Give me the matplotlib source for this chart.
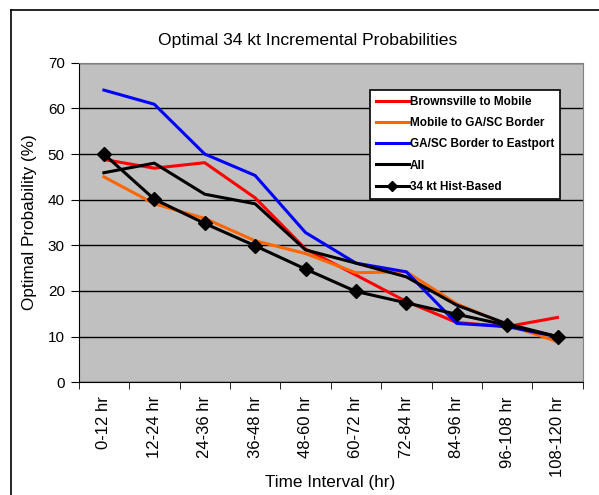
import matplotlib
matplotlib.use("Agg")
import matplotlib.pyplot as plt
from matplotlib.lines import Line2D

plt.rcParams['font.family'] = ['Liberation Sans', 'DejaVu Sans']

categories = ["0-12 hr", "12-24 hr", "24-36 hr", "36-48 hr", "48-60 hr",
              "60-72 hr", "72-84 hr", "84-96 hr", "96-108 hr", "108-120 hr"]
brownsville = [48.8, 46.9, 48.1, 40.4, 29.2, 23.5, 17.7, 13.1, 12.2, 14.2]
mobile = [45.0, 39.1, 35.9, 31.0, 28.2, 24.0, 24.2, 17.2, 12.6, 8.9]
gasc = [64.0, 60.9, 50.0, 45.3, 32.8, 26.1, 24.2, 12.9, 12.2, 10.0]
all_series = [45.9, 48.0, 41.2, 39.1, 29.0, 26.1, 23.1, 16.9, 12.8, 10.0]
hist = [50.0, 40.1, 34.8, 29.9, 24.8, 19.9, 17.4, 14.9, 12.5, 10.0]

fig = plt.figure(figsize=(5.99, 4.95), dpi=100)
W, H = 599, 495
ax = fig.add_axes([78.7 / W, 1 - 382.3 / H, (582.7 - 78.7) / W, (382.3 - 62.7) / H])
ax.set_facecolor('#C0C0C0')

x = list(range(len(categories)))
ax.plot(x, brownsville, color='#FF0000', lw=2.2, label='Brownsville to Mobile')
ax.plot(x, mobile, color='#FF6600', lw=2.2, label='Mobile to GA/SC Border')
ax.plot(x, gasc, color='#0000FF', lw=2.2, label='GA/SC Border to Eastport')
ax.plot(x, all_series, color='black', lw=2.2, label='All')
ax.plot(x, hist, color='black', lw=2.2, marker='D', markersize=7, label='34 kt Hist-Based')

ax.set_xlim(-0.5, len(categories) - 0.5)
ax.set_ylim(0, 70)
ax.set_yticks(range(0, 71, 10))
ax.tick_params(axis='y', labelsize=11, length=6, direction='out', pad=4)
ax.yaxis.grid(True, color='black', lw=1)
ax.set_axisbelow(True)

ax.set_xticks(x)
ax.set_xticklabels(categories, rotation=90, fontsize=12)
ax.tick_params(axis='x', which='major', length=0, pad=10)
ax.set_xticks([i - 0.5 for i in range(len(categories) + 1)], minor=True)
ax.tick_params(axis='x', which='minor', length=5, direction='out')

for s in ['top', 'right']:
    ax.spines[s].set_color('#808080')
for s in ['left', 'bottom']:
    ax.spines[s].set_color('black')

fig.text(308 / W, 1 - 40 / H, 'Optimal 34 kt Incremental Probabilities',
         ha='center', va='center', fontsize=12.6)
fig.text(330 / W, 1 - 482 / H, 'Time Interval (hr)', ha='center', va='center', fontsize=12.3)
fig.text(30 / W, 1 - 222 / H, 'Optimal Probability (%)', ha='center', va='center',
         rotation=90, fontsize=12.3)

leg = ax.legend(loc='upper left', bbox_to_anchor=((370 - 78.7) / 504, (382.3 - 90) / 319.6),
                frameon=True, fancybox=False, framealpha=1, edgecolor='black',
                prop={'weight': 'bold', 'size': 8.5}, handlelength=2.8, handletextpad=0.1,
                borderpad=0.5, labelspacing=0.78, borderaxespad=0)
leg.get_frame().set_linewidth(1.2)
for h in leg.legend_handles:
    h.set_markersize(5)

fig.add_artist(Line2D([11 / W, 11 / W], [0, 1 - 10 / H], color='black', lw=1.2,
                      transform=fig.transFigure))
fig.add_artist(Line2D([11 / W, 1], [1 - 10 / H, 1 - 10 / H], color='black', lw=1.2,
                      transform=fig.transFigure))

fig.savefig('out.png', dpi=100)
